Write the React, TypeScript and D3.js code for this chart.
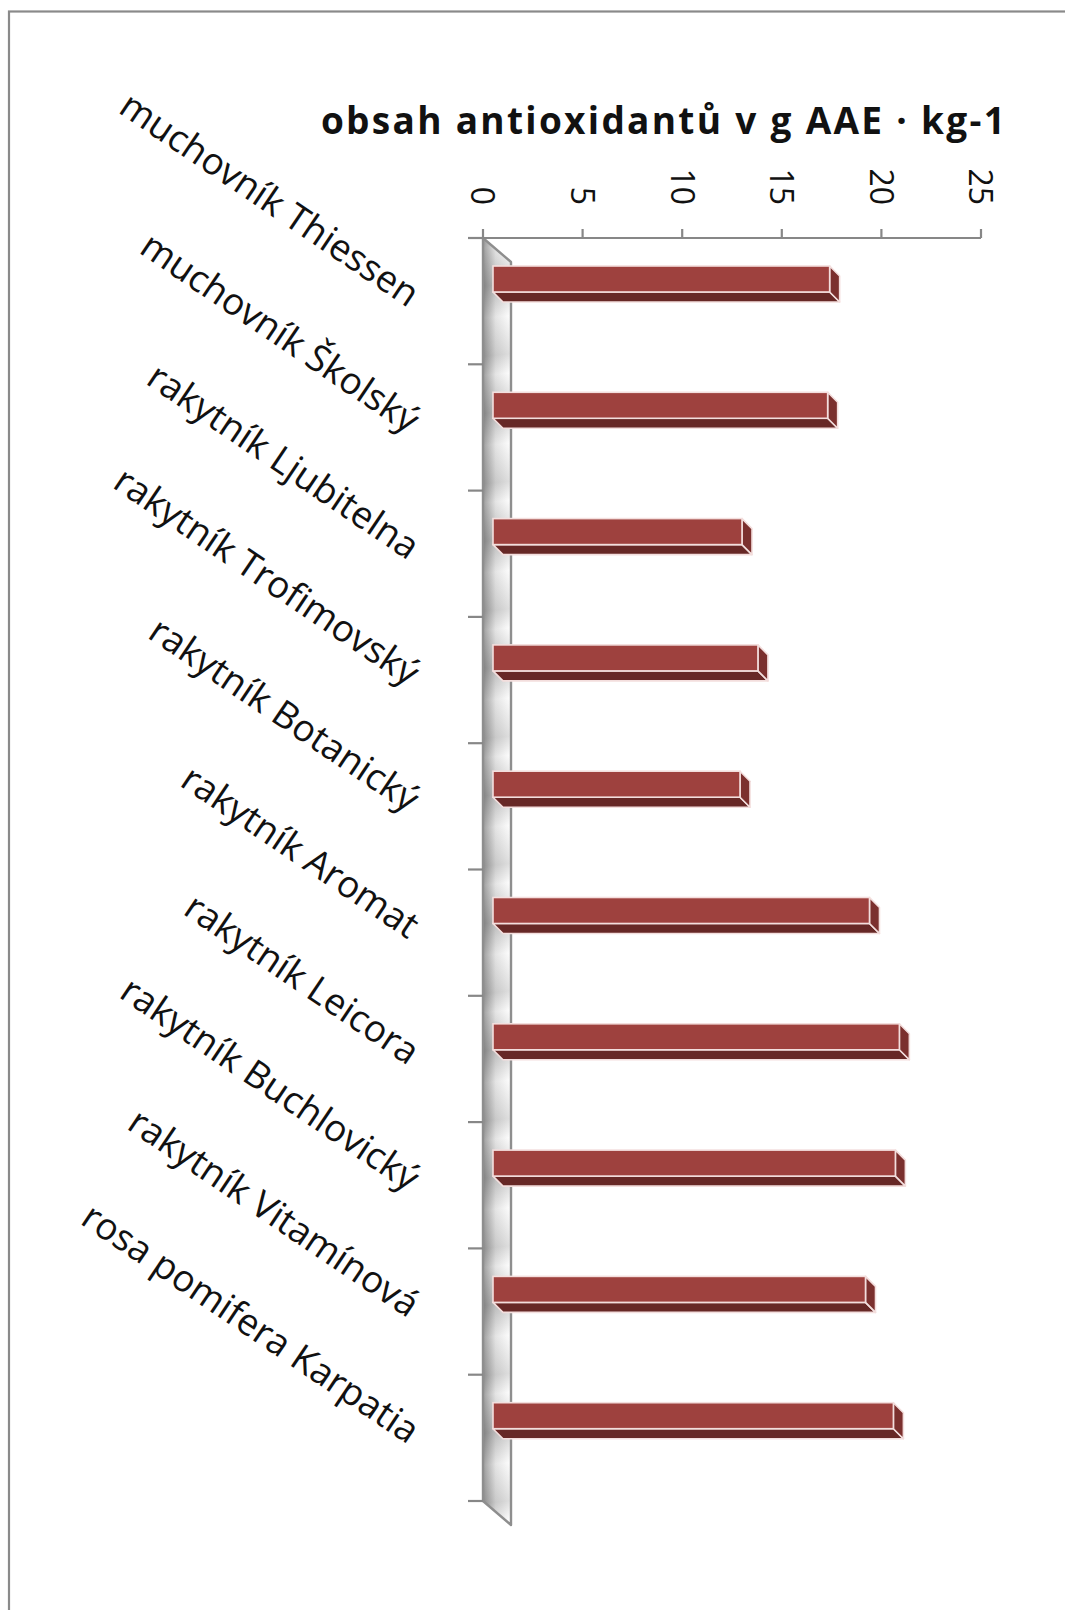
import React from "react";
import * as d3 from "d3";

const categories = [
  "muchovník Thiessen",
  "muchovník Školský",
  "rakytník Ljubitelna",
  "rakytník Trofimovský",
  "rakytník Botanický",
  "rakytník Aromat",
  "rakytník Leicora",
  "rakytník Buchlovický",
  "rakytník Vitamínová",
  "rosa pomifera Karpatia",
];
const values = [16.9, 16.8, 12.5, 13.3, 12.4, 18.9, 20.4, 20.2, 18.7, 20.1];
const valueTicks = [0, 5, 10, 15, 20, 25];
const titleText = "obsah antioxidantů v g AAE · kg-1";

const W = 1065;
const H = 1610;
const FONT = "'Open Sans', 'DejaVu Sans', sans-serif";

export default function App() {
  const x = d3.scaleLinear().domain([0, 25]).range([483, 981]);
  const y = d3.scaleBand<string>().domain(categories).range([238, 1501]).paddingInner(0).paddingOuter(0);
  const bw = y.bandwidth();
  const wallDX = 28;
  const wallDY = 24;
  const barDX = 10;
  const barDY = 10;
  const barOffX = 10; // bar front face starts behind the axis front edge
  const barTop = 28;
  const barH = 26;
  const axisY = y.range()[0];
  const yEnd = y.range()[1];
  const x0 = x(0);
  const boundaries = d3.range(categories.length + 1).map((i) => axisY + i * bw);

  const wallPts = [
    [x0, axisY],
    [x0 + wallDX, axisY + wallDY],
    [x0 + wallDX, yEnd + wallDY],
    [x0, yEnd],
  ]
    .map((p) => p.join(","))
    .join(" ");

  return (
    <svg
      width={W}
      height={H}
      style={{ position: "absolute", left: 0, top: 0, background: "#fff" }}
      fontFamily={FONT}
    >
      <defs>
        <linearGradient id="wallH" gradientUnits="userSpaceOnUse" x1={x0} y1={0} x2={x0 + wallDX} y2={0}>
          <stop offset="0" stopColor="#9c9c9c" />
          <stop offset="0.45" stopColor="#e4e4e4" />
          <stop offset="1" stopColor="#ffffff" />
        </linearGradient>
        <linearGradient
          id="wallV"
          gradientUnits="userSpaceOnUse"
          x1={x0}
          y1={axisY + 10}
          x2={x0 + 12}
          y2={axisY + 10 + bw}
          spreadMethod="repeat"
        >
          <stop offset="0" stopColor="#000" stopOpacity="0" />
          <stop offset="0.3" stopColor="#000" stopOpacity="0.18" />
          <stop offset="0.55" stopColor="#000" stopOpacity="0" />
          <stop offset="0.85" stopColor="#000" stopOpacity="0.12" />
          <stop offset="1" stopColor="#000" stopOpacity="0" />
        </linearGradient>
      </defs>

      {/* chart border */}
      <rect x={9} y={11.5} width={W + 20} height={H + 20} fill="none" stroke="#8a8a8a" strokeWidth={2.2} />

      {/* title */}
      <text
        x={664}
        y={134}
        textAnchor="middle"
        fontWeight="bold"
        fontSize={37}
        letterSpacing={2.3}
        fill="#111"
      >
        {titleText}
      </text>

      {/* wall / floor */}
      <polygon points={wallPts} fill="url(#wallH)" />
      <polygon points={wallPts} fill="url(#wallV)" />
      <polygon points={wallPts} fill="none" stroke="#8e8e8e" strokeWidth={2.4} strokeLinejoin="round" />

      {/* value axis */}
      <line x1={468} x2={x(25)} y1={axisY} y2={axisY} stroke="#878787" strokeWidth={2.2} />
      {valueTicks.map((t) => (
        <g key={t}>
          <line x1={x(t)} x2={x(t)} y1={axisY} y2={axisY - 9} stroke="#878787" strokeWidth={2.2} />
          <text
            transform={`translate(${x(t)},205) rotate(90)`}
            textAnchor="end"
            dy="0.36em"
            fontSize={32}
            fill="#111"
          >
            {t}
          </text>
        </g>
      ))}

      {/* category axis ticks */}
      {boundaries.map((b, i) => (
        <line key={i} x1={468} x2={x0} y1={b} y2={b} stroke="#878787" strokeWidth={2.2} />
      ))}

      {/* bars */}
      {categories.map((c, i) => {
        const bx0 = x0 + barOffX;
        const bx1 = x(values[i]) + barOffX;
        const by0 = (y(c) as number) + barTop;
        const by1 = by0 + barH;
        const bottom = [
          [bx0, by1],
          [bx1, by1],
          [bx1 + barDX, by1 + barDY],
          [bx0 + barDX, by1 + barDY],
        ];
        const cap = [
          [bx1, by0],
          [bx1 + barDX, by0 + barDY],
          [bx1 + barDX, by1 + barDY],
          [bx1, by1],
        ];
        const pts = (a: number[][]) => a.map((p) => p.join(",")).join(" ");
        return (
          <g key={c}>
            <polygon points={pts(bottom)} fill="#672826" stroke="#f3dedd" strokeWidth={1.6} strokeLinejoin="round" />
            <polygon points={pts(cap)} fill="#7b302e" stroke="#f3dedd" strokeWidth={1.6} strokeLinejoin="round" />
            <rect x={bx0} y={by0} width={bx1 - bx0} height={barH} fill="#9e413e" stroke="#f3dedd" strokeWidth={1.6} />
          </g>
        );
      })}

      {/* category labels */}
      {categories.map((c) => {
        const cy = (y(c) as number) + bw / 2 + 7;
        return (
          <text
            key={c}
            transform={`translate(408,${cy}) rotate(34)`}
            textAnchor="end"
            fontSize={37}
            fill="#111"
          >
            {c}
          </text>
        );
      })}
    </svg>
  );
}
